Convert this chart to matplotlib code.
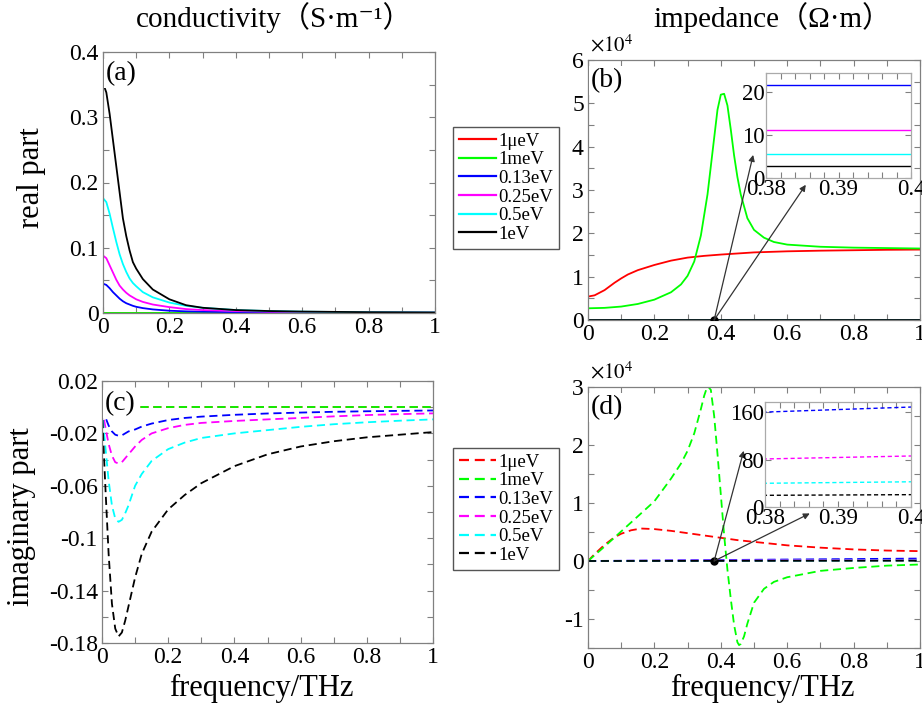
"""Graphene sheet: conductivity and impedance versus frequency for six Fermi levels."""

import matplotlib

matplotlib.use("Agg")
import matplotlib.pyplot as plt
from matplotlib.lines import Line2D
from matplotlib.ticker import FixedLocator, FixedFormatter, MultipleLocator

plt.rcParams["font.family"] = ["Liberation Serif", "DejaVu Serif"]
plt.rcParams["mathtext.fontset"] = "stix"
plt.rcParams["axes.unicode_minus"] = False

LABELS = ["1μeV", "1meV", "0.13eV", "0.25eV", "0.5eV", "1eV"]
COLORS = ["#ff0000", "#00ff00", "#0000ff", "#ff00ff", "#00ffff", "#000000"]

# curves that sit on zero across the whole band
freq_flat = [0.0, 0.5, 1.0]
zero_flat = [0.0, 0.0, 0.0]

# (a) real part of conductivity, S/m
freq_a = [0, 0.01, 0.02, 0.03, 0.04, 0.05, 0.06, 0.07, 0.08, 0.09, 0.10,
          0.12, 0.15, 0.2, 0.25, 0.3, 0.4, 0.5, 0.6, 0.8, 1.0]
re_sigma_013 = [0.045, 0.043, 0.038, 0.032, 0.027, 0.022, 0.018, 0.015, 0.013, 0.011, 0.0095,
                0.0075, 0.0055, 0.0035, 0.0025, 0.002, 0.0012, 0.0009, 0.0007, 0.0005, 0.0003]
re_sigma_025 = [0.088, 0.084, 0.073, 0.062, 0.051, 0.042, 0.036, 0.031, 0.027, 0.024, 0.021,
                0.017, 0.013, 0.009, 0.006, 0.0045, 0.003, 0.002, 0.0015, 0.001, 0.0006]
re_sigma_05 = [0.176, 0.170, 0.152, 0.130, 0.109, 0.090, 0.075, 0.063, 0.053, 0.046, 0.041,
               0.032, 0.024, 0.016, 0.011, 0.008, 0.0045, 0.003, 0.002, 0.0012, 0.0008]
re_sigma_1 = [0.352, 0.338, 0.305, 0.265, 0.225, 0.185, 0.145, 0.118, 0.096, 0.078, 0.068,
              0.052, 0.036, 0.021, 0.012, 0.008, 0.0045, 0.003, 0.0022, 0.0012, 0.0008]

# (c) imaginary part of conductivity, S/m
freq_c = [0, 0.005, 0.01, 0.02, 0.03, 0.04, 0.05, 0.06, 0.07, 0.08, 0.1, 0.12,
          0.15, 0.2, 0.25, 0.3, 0.4, 0.5, 0.6, 0.7, 0.8, 0.9, 1.0]
im_sigma_013 = [0.0, -0.004, -0.0075, -0.014, -0.0185, -0.021, -0.0218, -0.0215, -0.020, -0.0185,
                -0.017, -0.0148, -0.0125, -0.0098, -0.0082, -0.0072, -0.0058, -0.0048, -0.0041,
                -0.0035, -0.0031, -0.0028, -0.0025]
im_sigma_025 = [0.0, -0.008, -0.015, -0.028, -0.037, -0.042, -0.043, -0.042, -0.039, -0.036,
                -0.030, -0.025, -0.020, -0.016, -0.0135, -0.012, -0.0105, -0.0093, -0.0082,
                -0.0070, -0.0060, -0.0053, -0.0047]
im_sigma_05 = [0.0, -0.016, -0.030, -0.056, -0.075, -0.085, -0.0875, -0.086, -0.081, -0.075,
               -0.060, -0.051, -0.041, -0.032, -0.027, -0.0235, -0.020, -0.0175, -0.015,
               -0.013, -0.0115, -0.0103, -0.0093]
im_sigma_1 = [0.0, -0.032, -0.060, -0.112, -0.150, -0.169, -0.175, -0.172, -0.163, -0.152,
              -0.130, -0.112, -0.095, -0.078, -0.067, -0.058, -0.045, -0.036, -0.030,
              -0.026, -0.023, -0.021, -0.019]

# (b) real part of impedance, ohm*m
freq_b_1uev = [0, 0.02, 0.05, 0.08, 0.1, 0.12, 0.15, 0.2, 0.25, 0.3, 0.35, 0.4,
               0.5, 0.6, 0.7, 0.8, 0.9, 1.0]
re_z_1uev = [5400, 5700, 6900, 8600, 9600, 10500, 11500, 12700, 13700, 14400, 14800, 15100,
             15600, 15850, 16000, 16100, 16200, 16250]
freq_b_1mev = [0, 0.05, 0.1, 0.15, 0.2, 0.25, 0.28, 0.3, 0.32, 0.34, 0.36, 0.37, 0.38, 0.39,
               0.40, 0.41, 0.42, 0.43, 0.44, 0.45, 0.46, 0.48, 0.5, 0.53, 0.56, 0.6, 0.7,
               0.8, 0.9, 1.0]
re_z_1mev = [2700, 2800, 3100, 3700, 4700, 6400, 8200, 10200, 13500, 19500, 29000, 35500,
             42000, 48500, 52000, 52200, 49500, 44000, 38000, 33000, 29000, 23500, 20800,
             19000, 18000, 17400, 16900, 16700, 16600, 16500]
freq_b_const = [0.0, 1.0]
re_z_013 = [21.6, 21.6]
re_z_025 = [11.1, 11.1]
re_z_05 = [5.6, 5.6]
re_z_1 = [2.8, 2.8]

# (d) imaginary part of impedance, ohm*m
freq_d_1uev = [0, 0.02, 0.05, 0.08, 0.1, 0.13, 0.16, 0.2, 0.25, 0.3, 0.35, 0.4, 0.45,
               0.5, 0.6, 0.7, 0.8, 0.9, 1.0]
im_z_1uev = [0, 1200, 2800, 4100, 4700, 5300, 5600, 5500, 5200, 4800, 4400, 4000, 3600,
             3300, 2700, 2300, 2000, 1800, 1700]
freq_d_1mev = [0, 0.05, 0.1, 0.15, 0.2, 0.25, 0.28, 0.3, 0.32, 0.34, 0.35, 0.36, 0.37,
               0.38, 0.39, 0.40, 0.41, 0.42, 0.43, 0.44, 0.45, 0.455, 0.46, 0.47, 0.48,
               0.5, 0.53, 0.56, 0.6, 0.7, 0.8, 0.9, 1.0]
im_z_1mev = [0, 2500, 5100, 7700, 10300, 14200, 16800, 19000, 22000, 26200, 28500, 30200,
             29500, 25000, 18500, 11500, 4500, -1500, -6500, -11000, -14000, -14500,
             -14300, -13000, -10800, -7200, -4800, -3600, -2800, -1700, -1200, -800, -600]
freq_d_lin = [0.0, 0.38, 0.4, 1.0]
im_z_013 = [0.0, 160.0, 168.5, 421.0]
im_z_025 = [0.0, 81.0, 86.0, 214.0]
im_z_05 = [0.0, 40.0, 42.5, 106.0]
im_z_1 = [0.0, 19.7, 20.8, 52.0]

# zoom window shown in the insets and where the arrows land
INSET_X = (0.38, 0.4)
ARROW_TIPS_B = [(0.4975, 3.81), (0.656, 3.12)]
ARROW_TIPS_D = [(0.469, 1.90), (0.668, 0.82)]

FRAME = "#808080"
W, H = 922, 706
DASH = (0, (4.5, 2.6))


def rect(x0, y0, x1, y1):
    # pixel box -> figure fraction
    return [x0 / W, 1 - y1 / H, (x1 - x0) / W, (y1 - y0) / H]


def style(ax, size=17, xpad=3, ypad=3):
    for spine in ax.spines.values():
        spine.set_color(FRAME)
        spine.set_linewidth(0.9)
    ax.tick_params(which="both", direction="in", top=True, right=True,
                   color=FRAME, length=4, width=0.8)
    ax.tick_params(axis="x", labelsize=size, pad=xpad)
    ax.tick_params(axis="y", labelsize=size, pad=ypad)


def freq_axis(ax):
    ax.set_xlim(0, 1)
    ax.xaxis.set_major_locator(FixedLocator([0, 0.2, 0.4, 0.6, 0.8, 1.0]))
    ax.xaxis.set_major_formatter(FixedFormatter(["0", "0.2", "0.4", "0.6", "0.8", "1"]))
    ax.xaxis.set_minor_locator(MultipleLocator(0.1))


def panel_tag(ax, tag, dy):
    ax.text(0.008, 1 - dy, tag, transform=ax.transAxes, ha="left", va="top", fontsize=20,
            zorder=10, bbox=dict(facecolor="white", edgecolor="none", pad=1.5))


def zoom_arrows(ax, tips):
    ax.plot(INSET_X[0], 0, "o", color="k", ms=5, zorder=6)
    for tip in tips:
        ax.annotate("", xy=tip, xytext=(INSET_X[0], 0),
                    arrowprops=dict(arrowstyle="-|>", color="#333333", lw=0.9,
                                    mutation_scale=9, shrinkA=0, shrinkB=0), zorder=6)


def inset_style(ax, yticks, ylim):
    ax.set_xlim(*INSET_X)
    ax.set_ylim(*ylim)
    ax.xaxis.set_major_locator(FixedLocator([0.38, 0.39, 0.4]))
    ax.xaxis.set_major_formatter(FixedFormatter(["0.38", "0.39", "0.4"]))
    ax.xaxis.set_minor_locator(MultipleLocator(0.002))
    ax.yaxis.set_major_locator(FixedLocator(yticks))
    ax.yaxis.set_major_formatter(FixedFormatter([str(t) for t in yticks]))
    style(ax, size=16.5, xpad=1, ypad=1)
    for spine in ax.spines.values():
        spine.set_color("#aaaaaa")


fig = plt.figure(figsize=(W / 100, H / 100), dpi=100)

# (a) real conductivity
ax_a = fig.add_axes(rect(103, 52, 435, 313))
ax_a.plot(freq_flat, zero_flat, color=COLORS[0], lw=1.3)
ax_a.plot(freq_flat, zero_flat, color=COLORS[1], lw=1.3)
for vals, col in zip([re_sigma_013, re_sigma_025, re_sigma_05, re_sigma_1], COLORS[2:]):
    ax_a.plot(freq_a, vals, color=col, lw=1.3)
ax_a.set_ylim(0, 0.4)
ax_a.yaxis.set_major_locator(FixedLocator([0, 0.1, 0.2, 0.3, 0.4]))
ax_a.yaxis.set_major_formatter(FixedFormatter(["0", "0.1", "0.2", "0.3", "0.4"]))
ax_a.yaxis.set_minor_locator(MultipleLocator(0.05))
freq_axis(ax_a)
style(ax_a)
panel_tag(ax_a, "(a)", 0.035)

# (c) imaginary conductivity
ax_c = fig.add_axes(rect(102, 381, 433, 643))
ax_c.plot(freq_flat, zero_flat, color=COLORS[0], lw=1.3, ls=DASH)
ax_c.plot(freq_flat, zero_flat, color=COLORS[1], lw=1.3, ls=DASH)
for vals, col in zip([im_sigma_013, im_sigma_025, im_sigma_05, im_sigma_1], COLORS[2:]):
    ax_c.plot(freq_c, vals, color=col, lw=1.3, ls=DASH)
ax_c.set_ylim(-0.18, 0.02)
ax_c.yaxis.set_major_locator(FixedLocator([0.02, -0.02, -0.06, -0.1, -0.14, -0.18]))
ax_c.yaxis.set_major_formatter(
    FixedFormatter(["0.02", "-0.02", "-0.06", "-0.1", "-0.14", "-0.18"]))
ax_c.yaxis.set_minor_locator(FixedLocator([0.0, -0.04, -0.08, -0.12, -0.16]))
freq_axis(ax_c)
style(ax_c)
panel_tag(ax_c, "(c)", 0.04)

# (b) real impedance, main axis in units of 1e4
ax_b = fig.add_axes(rect(588, 60, 920, 320))
ax_b.plot(freq_b_1uev, [v / 1e4 for v in re_z_1uev], color=COLORS[0], lw=1.3)
ax_b.plot(freq_b_1mev, [v / 1e4 for v in re_z_1mev], color=COLORS[1], lw=1.3)
for vals, col in zip([re_z_013, re_z_025, re_z_05, re_z_1], COLORS[2:]):
    ax_b.plot(freq_b_const, [v / 1e4 for v in vals], color=col, lw=1.3)
ax_b.set_ylim(0, 6)
ax_b.yaxis.set_major_locator(FixedLocator([0, 1, 2, 3, 4, 5, 6]))
ax_b.yaxis.set_major_formatter(FixedFormatter(["0", "1", "2", "3", "4", "5", "6"]))
ax_b.yaxis.set_minor_locator(MultipleLocator(0.5))
freq_axis(ax_b)
style(ax_b)
panel_tag(ax_b, "(b)", 0.03)
ax_b.text(0.005, 1.015, r"$\times10^4$", transform=ax_b.transAxes, ha="left", va="bottom",
          fontsize=15)
zoom_arrows(ax_b, ARROW_TIPS_B)

ins_b = fig.add_axes(rect(766, 73, 911, 178))
for vals, col in zip([re_z_013, re_z_025, re_z_05, re_z_1], COLORS[2:]):
    ins_b.plot(freq_b_const, vals, color=col, lw=1.0)
inset_style(ins_b, [0, 10, 20], (0, 24.5))

# (d) imaginary impedance
ax_d = fig.add_axes(rect(588, 387, 920, 648))
ax_d.plot(freq_d_1uev, [v / 1e4 for v in im_z_1uev], color=COLORS[0], lw=1.3, ls=DASH)
ax_d.plot(freq_d_1mev, [v / 1e4 for v in im_z_1mev], color=COLORS[1], lw=1.3, ls=DASH)
for vals, col in zip([im_z_013, im_z_025, im_z_05, im_z_1], COLORS[2:]):
    ax_d.plot(freq_d_lin, [v / 1e4 for v in vals], color=col, lw=1.3, ls=DASH)
ax_d.set_ylim(-1.5, 3)
ax_d.yaxis.set_major_locator(FixedLocator([-1, 0, 1, 2, 3]))
ax_d.yaxis.set_major_formatter(FixedFormatter(["-1", "0", "1", "2", "3"]))
ax_d.yaxis.set_minor_locator(MultipleLocator(0.5))
freq_axis(ax_d)
style(ax_d)
panel_tag(ax_d, "(d)", 0.03)
ax_d.text(0.005, 1.015, r"$\times10^4$", transform=ax_d.transAxes, ha="left", va="bottom",
          fontsize=15)
zoom_arrows(ax_d, ARROW_TIPS_D)

ins_d = fig.add_axes(rect(765, 402, 911, 507))
for vals, col in zip([im_z_013, im_z_025, im_z_05, im_z_1], COLORS[2:]):
    ins_d.plot(freq_d_lin, vals, color=col, lw=1.0, ls=(0, (3, 2)))
inset_style(ins_d, [0, 80, 160], (0, 177))

# column titles and axis labels
cjk = ["Liberation Serif", "Noto Sans CJK SC", "DejaVu Sans"]
fig.text(274 / W, 1 - 18 / H, "conductivity（S·m⁻¹）", ha="center", va="center",
         fontsize=21, family=cjk)
fig.text(772 / W, 1 - 18 / H, "impedance（Ω·m）", ha="center", va="center",
         fontsize=21, family=cjk)
fig.text(31 / W, 1 - 178 / H, "real part", rotation=90, ha="center", va="center", fontsize=22)
fig.text(21 / W, 1 - 517 / H, "imaginary part", rotation=90, ha="center", va="center",
         fontsize=22)
fig.text(261 / W, 1 - 688 / H, "frequency/THz", ha="center", va="center", fontsize=22)
fig.text(762 / W, 1 - 688 / H, "frequency/THz", ha="center", va="center", fontsize=22)

# shared legends between the columns
for top, ls in [(127, "-"), (448, DASH)]:
    handles = [Line2D([], [], color=c, lw=1.6, ls=ls) for c in COLORS]
    leg = fig.legend(handles, LABELS, loc="upper left", bbox_to_anchor=(453 / W, 1 - top / H),
                     fontsize=13.5, frameon=True, fancybox=False, framealpha=1,
                     borderpad=0.3, handlelength=2.0, handletextpad=0.12,
                     labelspacing=0.08, borderaxespad=0)
    leg.get_frame().set_edgecolor("#555555")
    leg.get_frame().set_linewidth(1.0)

fig.savefig("out.png", dpi=100)
